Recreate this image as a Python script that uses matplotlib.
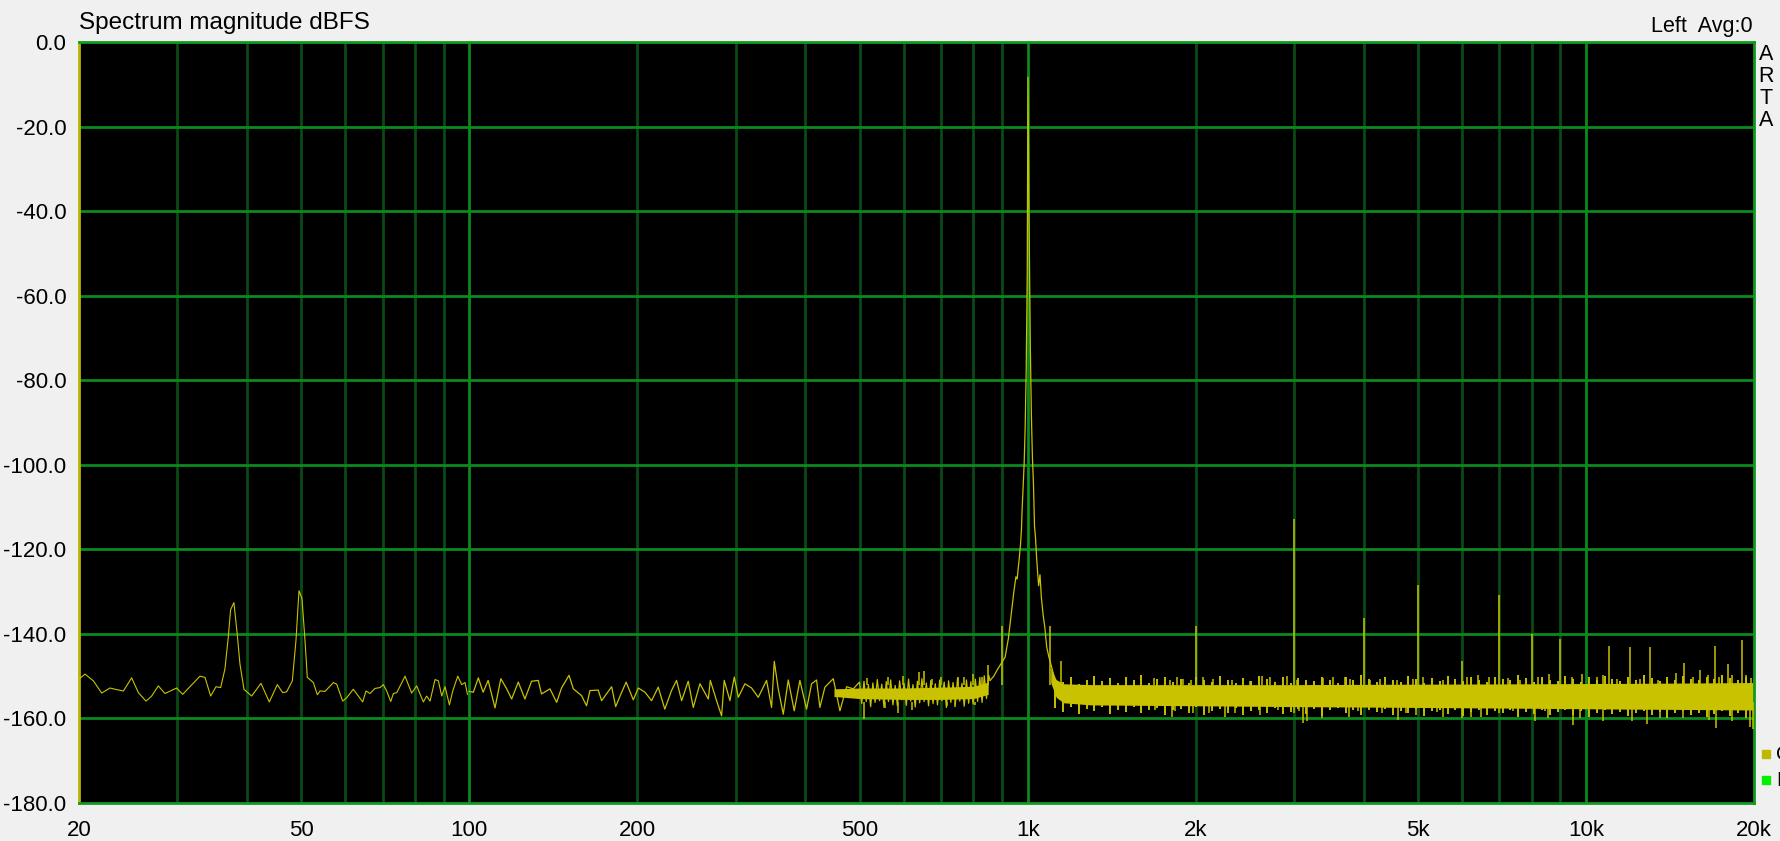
import matplotlib
matplotlib.use("Agg")
import matplotlib.pyplot as plt

plt.rcParams['font.family'] = ['Liberation Sans', 'DejaVu Sans']

# low frequency trace, 20..100 Hz
low_freq = [20.0, 20.5, 21.22, 21.96, 22.73, 23.21, 24.02, 24.85, 25.55, 26.36,
            26.99, 27.74, 28.51, 29.92, 30.67, 32.94, 33.63, 34.42, 35.19, 35.87,
            36.51, 37.02, 37.37, 37.89, 38.42, 38.84, 39.49, 40.76, 42.36, 43.84,
            45.31, 46.33, 47.09, 48.21, 48.94, 49.55, 50.16, 50.79, 51.28, 52.57,
            53.45, 54.03, 55.17, 57.10, 57.89, 59.33, 60.32, 61.99, 63.29, 64.44,
            65.32, 66.41, 67.79, 69.21, 70.17, 71.14, 72.33, 73.13, 74.15, 76.73,
            78.86, 80.51, 82.75, 83.90, 85.07, 86.84, 88.04, 89.27, 90.50, 92.14,
            93.42, 95.36, 96.95, 98.29, 99.24]
low_db = [-150.7, -149.5, -151.1, -154.0, -152.8, -153.1, -153.5, -150.4, -153.9, -155.9,
          -154.7, -152.3, -154.1, -152.8, -154.3, -150.0, -150.3, -154.7, -152.5, -152.7,
          -148.3, -140.7, -134.3, -132.6, -140.3, -147.1, -153.1, -154.7, -151.7, -156.1,
          -152.0, -153.9, -153.7, -151.1, -141.5, -129.8, -131.6, -141.5, -150.3, -151.5,
          -154.4, -153.5, -153.6, -151.5, -151.9, -155.9, -155.1, -153.1, -154.7, -156.1,
          -153.5, -154.1, -152.9, -152.7, -152.0, -153.5, -156.0, -154.1, -153.9, -150.0,
          -154.0, -152.3, -156.1, -154.7, -155.9, -150.8, -151.1, -154.7, -152.5, -156.8,
          -153.5, -150.0, -152.0, -151.5, -154.3]

# 100..500 Hz trace
mid_freq = [100.0, 101.7, 103.8, 105.9, 108.1, 111.2, 113.9, 116.7, 119.1, 122.4,
            125.8, 129.3, 132.9, 134.7, 139.5, 143.4, 146.3, 150.9, 153.6, 158.9,
            162.2, 164.5, 170.2, 172.6, 179.9, 182.9, 187.5, 191.0, 196.7, 200.8,
            206.4, 212.1, 218.0, 224.0, 230.3, 235.1, 240.1, 246.7, 251.9, 258.9,
            268.0, 270.2, 277.3, 283.1, 286.2, 293.0, 298.3, 303.3, 311.7, 320.4,
            329.3, 340.8, 347.9, 351.8, 357.6, 365.1, 372.7, 382.0, 391.0, 401.9,
            410.3, 418.8, 424.6, 433.5, 448.7, 461.2, 474.1, 487.3]
mid_db = [-153.6, -153.8, -150.4, -153.8, -151.0, -157.5, -150.6, -153.0, -155.4, -151.4,
          -155.4, -151.2, -151.0, -154.2, -153.0, -156.2, -152.8, -149.8, -153.0, -154.6,
          -157.0, -153.4, -153.3, -155.8, -152.5, -157.2, -153.8, -151.4, -155.6, -152.8,
          -153.8, -155.8, -152.6, -157.8, -153.4, -151.0, -155.8, -151.2, -157.4, -151.8,
          -155.4, -151.0, -155.8, -159.4, -151.0, -155.8, -150.2, -155.0, -151.8, -152.8,
          -155.0, -151.0, -157.4, -146.5, -153.0, -159.0, -150.9, -158.2, -151.0, -157.8,
          -151.8, -150.9, -157.4, -152.6, -150.6, -158.2, -152.5, -153.0]

# 500..860 Hz trace, dense jitter
pre_freq = [500, 504.6, 509.3, 514, 518.7, 523.5, 528.3, 533.2, 538.1, 543.1,
            548.1, 553.2, 558.3, 563.4, 568.6, 573.9, 579.2, 584.5, 589.9, 595.3,
            600.8, 606.4, 612, 617.6, 623.3, 629.1, 634.9, 640.8, 646.7, 652.6,
            658.7, 664.7, 670.9, 677.1, 683.3, 689.6, 696, 702.4, 708.9, 715.4,
            722, 728.7, 735.4, 742.2, 749.1, 756, 763, 770, 777.1, 784.3,
            791.5, 798.8, 806.2, 813.7, 821.2, 828.8, 836.4, 844.1, 851.9, 856.6]
pre_db = [-151.4, -156.5, -151.2, -156.0, -152.0, -157.2, -151.6, -156.2, -150.8, -155.8,
          -151.9, -157.4, -151.3, -156.0, -150.9, -156.8, -152.2, -157.0, -151.1, -155.6,
          -151.7, -156.9, -150.7, -155.9, -152.0, -157.3, -151.2, -156.3, -150.6, -156.0,
          -151.6, -157.0, -151.0, -156.5, -151.8, -156.8, -150.9, -155.8, -151.4, -157.4,
          -151.1, -156.2, -151.5, -156.7, -150.5, -155.9, -151.7, -157.1, -150.9, -156.4,
          -151.3, -156.6, -150.7, -156.0, -150.3, -156.2, -149.9, -155.3, -149.8, -151.0]

# solid core of the noise floor
band_a_freq = [450, 500, 600, 700, 800, 850]
band_a_hi = [-153.0, -152.8, -152.8, -152.6, -152.4, -151.4]
band_a_lo = [-154.8, -155.3, -155.5, -155.5, -155.3, -154.3]

band_b_freq = [1100, 1125, 1160, 1300, 2000, 3000, 5000, 8000, 12000, 16000, 20000]
band_b_hi = [-148.0, -150.8, -151.8, -152.0, -152.0, -152.0, -151.9, -151.8, -151.7, -151.6, -151.5]
band_b_lo = [-151.5, -155.0, -156.3, -156.8, -157.0, -157.2, -157.4, -157.6, -157.8, -157.9, -158.0]

# per column extremes of the noise above 1.1 kHz
col_freq = [1120, 1157, 1195, 1234, 1275, 1317, 1360, 1405, 1451, 1499,
            1548, 1599, 1652, 1706, 1762, 1820, 1880, 1942, 2006, 2072,
            2140, 2210, 2283, 2358, 2436, 2516, 2599, 2684, 2773, 2864,
            2958, 3056, 3156, 3260, 3367, 3478, 3593, 3711, 3833, 3959,
            4089, 4224, 4363, 4507, 4655, 4808, 4966, 5130, 5299, 5473,
            5653, 5839, 6031, 6230, 6435, 6646, 6865, 7091, 7324, 7565,
            7814, 8071, 8337, 8611, 8894, 9187, 9489, 9801, 10124, 10457,
            10801, 11156, 11523, 11902, 12294, 12698, 13116, 13548, 13993, 14454,
            14929, 15420, 15928, 16452, 16993, 17552, 18130, 18726, 19342, 19979]
col_hi = [-150.6, -151.4, -150.2, -151.8, -150.9, -149.9, -151.2, -150.5, -151.6, -150.3,
          -151.0, -149.8, -151.5, -150.7, -150.1, -151.3, -150.6, -151.7, -150.2, -150.9,
          -151.4, -150.0, -150.8, -151.5, -150.4, -151.1, -149.9, -150.7, -151.3, -150.2,
          -151.6, -150.5, -150.9, -151.2, -150.1, -150.8, -151.5, -150.3, -151.0, -149.8,
          -150.6, -151.4, -150.2, -150.9, -151.3, -150.0, -150.7, -151.5, -150.4, -151.1,
          -149.9, -150.6, -151.2, -150.3, -150.8, -151.4, -150.1, -150.7, -151.0, -149.7,
          -150.5, -151.3, -150.2, -150.9, -151.2, -149.9, -150.6, -151.4, -150.3, -150.8,
          -150.0, -150.7, -151.2, -150.2, -150.9, -149.8, -150.5, -151.1, -150.3, -150.8,
          -149.9, -150.6, -151.0, -150.2, -150.7, -149.8, -150.5, -150.9, -150.1, -150.6]
col_lo = [-157.6, -158.4, -157.2, -158.9, -157.8, -158.2, -157.4, -159.0, -157.9, -158.5,
          -157.3, -158.8, -158.0, -157.5, -159.2, -158.1, -157.7, -158.6, -157.4, -159.1,
          -158.3, -157.8, -158.7, -157.5, -159.3, -158.2, -157.9, -158.6, -157.6, -159.0,
          -158.4, -157.7, -158.9, -157.8, -159.4, -158.1, -157.6, -158.8, -158.0, -159.2,
          -157.9, -158.5, -157.7, -159.3, -158.2, -158.8, -157.8, -159.5, -158.3, -157.9,
          -158.9, -158.1, -159.4, -158.4, -157.9, -159.1, -158.2, -158.7, -157.9, -159.6,
          -158.4, -158.9, -158.1, -159.3, -158.5, -158.0, -159.2, -158.3, -159.7, -158.6,
          -158.1, -159.0, -158.4, -159.5, -158.7, -158.2, -159.3, -158.5, -159.8, -158.6,
          -158.2, -159.2, -158.7, -159.6, -158.9, -158.3, -159.4, -158.8, -159.9, -158.6]

# 1 kHz tone with window skirt
peak_freq = [856.6, 870, 880.6, 892, 911.4, 923.8, 931, 938, 945, 953,
             958, 962, 966, 971, 975, 977.5, 981.7, 985.9, 990.1, 994.3,
             998.6, 1001.4, 1005.5, 1011.4, 1015.8, 1020.1, 1024.5, 1028.9, 1033.3, 1037.7,
             1042.1, 1046.6, 1052.5, 1058.6, 1066.2, 1073.7, 1082, 1092, 1104.6, 1120,
             1140, 1162]
peak_db = [-151.0, -150.0, -148.7, -147.5, -145.5, -141.1, -137.3, -133.6, -130.0, -126.5,
           -127.0, -124.5, -122.3, -119.0, -115.4, -110.9, -105.2, -99.8, -91.1, -77.5,
           -54.3, -8.3, -38.9, -72.5, -88.4, -98.2, -104.5, -114.5, -117.3, -121.8,
           -125.4, -128.6, -126.0, -131.5, -135.5, -138.5, -143.1, -145.5, -147.9, -151.1,
           -152.0, -153.5]

# harmonics and hum lines above the floor
harm_freq = [899, 1098, 1149, 2000, 3000, 4000, 5000, 6000, 7000, 8000,
             9000, 11000, 12000, 13000, 14500, 15000, 16000, 17000, 18000, 19000]
harm_db = [-138.2, -138.2, -146.5, -138.2, -112.8, -136.3, -128.5, -146.4, -130.9, -140.0,
           -141.2, -142.9, -143.2, -143.2, -149.2, -146.8, -148.6, -142.9, -147.2, -141.4]

# small noise spikes sticking out of the band
up_freq = [515, 562, 598, 640, 653, 675, 699, 749, 768, 798, 828, 851,
           1686, 1798, 1849, 1895, 1958, 2063, 2145, 2319, 2501, 2624, 2717, 2919,
           3035, 3384, 3517, 3702, 3779, 4104, 4278, 4580, 4905, 5114, 5557, 6117,
           6415, 6703, 7260, 7617, 8213, 8595, 9426, 9821, 10455, 10745, 11344,
           12490, 13471, 15553, 16527, 17314, 18262, 19385, 19770]
up_db = [-150.4, -150.1, -149.9, -148.9, -148.7, -150.7, -150.3, -150.3, -150.3, -149.6, -150.3, -147.3,
         -150.5, -150.9, -150.2, -150.7, -150.9, -150.1, -150.6, -150.9, -151.2, -149.9, -150.2, -149.9,
         -150.9, -150.5, -150.2, -150.1, -150.6, -150.9, -150.6, -150.9, -150.6, -150.1, -150.9, -150.3,
         -149.7, -150.3, -150.5, -150.9, -150.1, -149.5, -150.2, -149.4, -150.2, -149.8, -150.6,
         -150.6, -150.8, -150.2, -149.8, -150.2, -149.8, -149.8, -150.4]

dn_freq = [510, 555, 587, 620, 717, 742, 806,
           1689, 1748, 1813, 1834, 1979, 2113, 2254, 2349, 2606, 2810, 2998, 3064,
           3114, 3166, 3370, 3769, 3914, 4319, 4612, 4770, 4969, 5403, 5540, 5989,
           6225, 6485, 6987, 7413, 8101, 8442, 8562, 9491, 9754, 10745, 12070, 12840,
           13564, 14937, 16639, 17131, 18262, 19640, 19950]
dn_db = [-160.2, -157.6, -158.6, -158.1, -157.1, -157.3, -156.8,
         -157.9, -157.1, -159.6, -158.3, -158.7, -158.7, -159.6, -158.7, -159.1, -157.9, -158.7, -158.3,
         -161.0, -160.6, -159.9, -159.6, -158.3, -158.7, -160.4, -158.7, -159.1, -158.5, -159.7, -159.9,
         -159.7, -159.6, -158.7, -158.3, -160.6, -158.3, -159.8, -161.6, -159.8, -160.6, -160.6, -161.4,
         -159.8, -159.8, -160.4, -162.3, -160.6, -162.0, -162.5]

x_ticks = [20, 50, 100, 200, 500, 1000, 2000, 5000, 10000, 20000]
x_labels = ["20", "50", "100", "200", "500", "1k", "2k", "5k", "10k", "20k"]
y_ticks = [0, -20, -40, -60, -80, -100, -120, -140, -160, -180]
y_labels = ["%.1f" % v for v in y_ticks]

decades = [100, 1000, 10000]
minors = [m * d for d in [10, 100, 1000] for m in range(2, 10)]
minors = [f for f in minors if 20 < f < 20000]

trace = "#c8c200"
bg = "#f0f0f0"

fig = plt.figure(figsize=(17.8, 8.41), dpi=100, facecolor=bg)
ax = fig.add_axes([79 / 1780, 1 - 803 / 841, (1754 - 79) / 1780, (803 - 42) / 841])
ax.set_facecolor("black")
ax.set_xscale("log")
ax.set_xlim(20, 20000)
ax.set_ylim(-180, 0)

for f in minors:
    ax.axvline(f, color="#0a4a14", lw=2, zorder=1)
for f in decades:
    ax.axvline(f, color="#0b8a1e", lw=2, zorder=1)
for v in y_ticks[1:-1]:
    ax.axhline(v, color="#0b8a1e", lw=2, zorder=1)

ax.fill_between(band_a_freq, band_a_lo, band_a_hi, color=trace, lw=0, zorder=2)
ax.fill_between(band_b_freq, band_b_lo, band_b_hi, color=trace, lw=0, zorder=2)
ax.vlines(col_freq, col_lo, col_hi, color=trace, lw=1.4, zorder=2)
ax.plot(low_freq, low_db, color=trace, lw=0.8, zorder=3)
ax.plot(mid_freq + pre_freq, mid_db + pre_db, color=trace, lw=0.9, zorder=3)
ax.plot(peak_freq, peak_db, color=trace, lw=0.9, zorder=3)
ax.vlines(harm_freq, -152, harm_db, color=trace, lw=1.1, zorder=3)
ax.vlines(up_freq, -152, up_db, color=trace, lw=1.1, zorder=3)
ax.vlines(dn_freq, -156, dn_db, color=trace, lw=1.1, zorder=3)

for s in ax.spines.values():
    s.set_color("#109a22")
    s.set_linewidth(2)
ax.spines["left"].set_color("#b8b400")

ax.set_xticks(x_ticks)
ax.set_xticklabels(x_labels)
ax.xaxis.set_minor_locator(matplotlib.ticker.NullLocator())
ax.set_yticks(y_ticks)
ax.set_yticklabels(y_labels)
ax.tick_params(length=0, labelsize=16, colors="black")
ax.tick_params(axis="x", pad=12)
ax.tick_params(axis="y", pad=9)

fig.text(79 / 1780, 1 - 29 / 841, "Spectrum magnitude dBFS", fontsize=17.5, ha="left", va="baseline")
fig.text(1753 / 1780, 1 - 32 / 841, "Left  Avg:0", fontsize=15.5, ha="right", va="baseline")
for i, ch in enumerate("ARTA"):
    fig.text(1766 / 1780, 1 - (54 + 22 * i) / 841, ch, fontsize=15.5, ha="center", va="center")

fig.patches.append(plt.Rectangle((1762 / 1780, 1 - 758 / 841), 8 / 1780, 8 / 841,
                                 transform=fig.transFigure, color="#c0b800"))
fig.patches.append(plt.Rectangle((1762 / 1780, 1 - 784 / 841), 8 / 1780, 8 / 841,
                                 transform=fig.transFigure, color="#00f000"))
fig.text(1776 / 1780, 1 - 754 / 841, "C", fontsize=15, ha="left", va="center")
fig.text(1776 / 1780, 1 - 780 / 841, "M", fontsize=15, ha="left", va="center")

fig.savefig("out.png", dpi=100, facecolor=bg)
